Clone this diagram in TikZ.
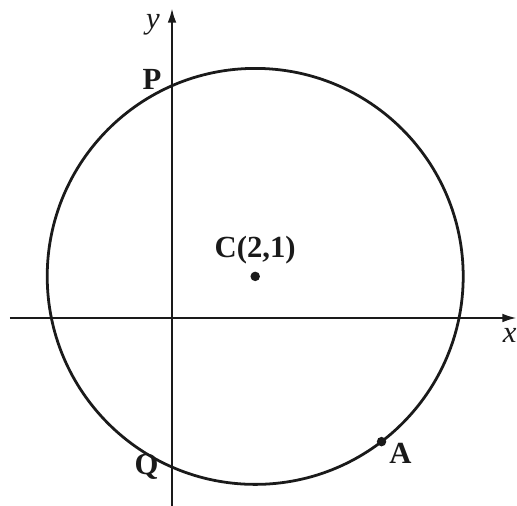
\documentclass[tikz,border=0pt]{standalone}
\usepackage{fontspec}
\setmainfont{Liberation Serif}
\usetikzlibrary{arrows.meta, positioning}
\definecolor{circLine}{HTML}{1A1A1A}
\tikzset{
  circfig/.style={
    every node/.append style={font=\fontsize{21}{24}\selectfont\bfseries, text=circLine},
    >={Latex[length=10pt, width=6pt]},
  },
  axis/.style={draw=circLine, line width=1.6pt, ->},
  circ/.style={draw=circLine, line width=1.9pt},
  ptdot/.style={circle, fill=circLine, inner sep=0pt, minimum size=6.5pt},
  axlabel/.style={font=\fontsize{21}{24}\selectfont\itshape, inner sep=1pt},
  ptlabel/.style={inner sep=2pt},
}
\begin{document}
\begin{tikzpicture}[circfig]
  \useasboundingbox (-4.135,-4.519) rectangle (8.293,7.644);
  \coordinate (Xstart) at (-3.9,0);
  \coordinate (Xend) at (8.29,0);
  \coordinate (Ystart) at (0,-4.52);
  \coordinate (Yend) at (0,7.45);
  \draw[axis] (Xstart) -- (Xend);
  \draw[axis] (Ystart) -- (Yend);
  \node[ptdot] (C) at (2,1) {};
  \draw[circ] (C) circle (5);
  \coordinate (P) at (0,5.583);
  \coordinate (Q) at (0,-3.583);
  \node[ptdot] (A) at ([shift={(-52.6:5)}]C) {};
  \node[ptlabel, above=3pt of C] (Clabel) {C(2,1)};
  \node[ptlabel, anchor=east] (Plabel) at ([xshift=-5pt,yshift=4pt]P) {P};
  \node[ptlabel, anchor=east] (Qlabel) at ([xshift=-7pt]Q) {Q};
  \node[ptlabel] (Alabel) at ([xshift=13pt,yshift=-8pt]A) {A};
  \node[axlabel, anchor=east] (ylabel) at (-0.25,7.05) {y};
  \node[axlabel, anchor=north] (xlabel) at (8.12,-0.2) {x};
\end{tikzpicture}
\end{document}
